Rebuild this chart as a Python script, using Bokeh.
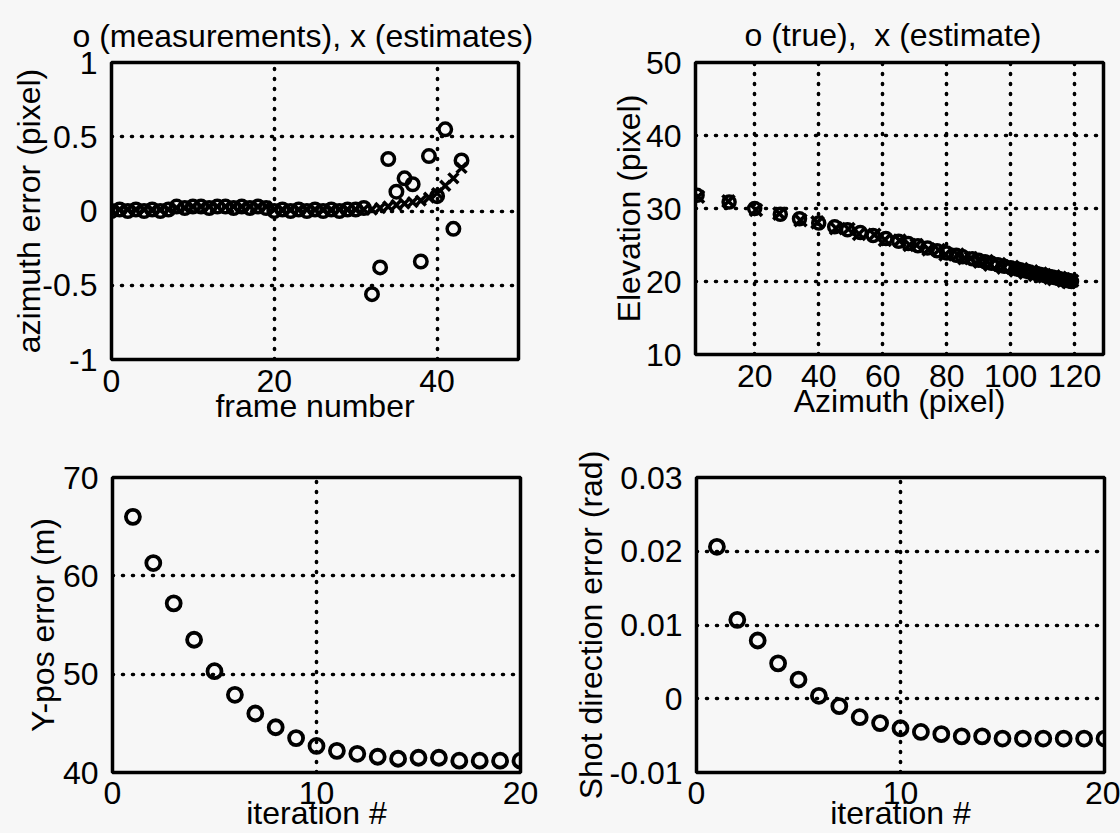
from bokeh.plotting import figure
from bokeh.layouts import column, row
from bokeh.models import FixedTicker, PrintfTickFormatter, Range1d
from bokeh.embed import file_html
from bokeh.resources import INLINE

# ---- data -------------------------------------------------------------
frames = list(range(44))
az_meas = [0.00, 0.01, 0.00, 0.01, 0.00, 0.01, 0.00, 0.01,
           0.03, 0.02, 0.03, 0.03, 0.02, 0.03, 0.03, 0.02, 0.03, 0.02, 0.03, 0.02,
           0.00, 0.01, 0.00, 0.01, 0.00, 0.01, 0.00, 0.01, 0.00, 0.01, 0.01, 0.02,
           -0.56, -0.38, 0.35, 0.13, 0.22, 0.18, -0.34, 0.37, 0.10, 0.55, -0.12, 0.34]
az_est = [0.00, 0.01, 0.01, 0.01, 0.01, 0.01, 0.01, 0.01,
          0.02, 0.02, 0.03, 0.03, 0.03, 0.03, 0.03, 0.03, 0.03, 0.03, 0.03, 0.03,
          0.01, 0.01, 0.01, 0.01, 0.01, 0.01, 0.01, 0.01, 0.01, 0.01, 0.01, 0.01,
          0.01, 0.02, 0.03, 0.04, 0.05, 0.06, 0.07, 0.09, 0.12, 0.17, 0.22, 0.29]

track_az_true = [2, 12, 20, 28, 34, 40, 45, 49, 53, 57,
                 61, 65, 68, 71, 74, 77, 80, 83, 85, 88,
                 90, 92, 94, 96, 98, 100, 102, 103, 105, 106,
                 108, 109, 110, 111, 112, 113, 114, 115, 116, 117,
                 117.5, 118, 118.5, 119]
track_el_true = [31.8, 30.9, 30.0, 29.2, 28.6, 28.0, 27.5, 27.1, 26.7, 26.3,
                 25.9, 25.5, 25.2, 24.9, 24.6, 24.2, 23.9, 23.6, 23.4, 23.1,
                 22.9, 22.7, 22.5, 22.3, 22.1, 21.9, 21.7, 21.6, 21.4, 21.3,
                 21.1, 21.0, 20.9, 20.8, 20.7, 20.6, 20.5, 20.4, 20.3, 20.2,
                 20.2, 20.1, 20.1, 20.0]
track_az_est = [2.3, 11.8, 20.4, 27.7, 34.3, 39.6, 45.4, 49.3, 52.6, 57.4,
                60.7, 65.3, 68.4, 70.6, 74.3, 77.5, 79.6, 83.4, 85.5, 87.6,
                90.4, 92.5, 93.6, 96.4, 97.7, 100.5, 101.6, 103.4, 104.6, 106.5,
                107.6, 109.4, 110.5, 110.6, 112.4, 113.5, 113.6, 115.4, 116.5, 116.6,
                117.8, 118.3, 118.2, 119.2]
track_el_est = [31.6, 31.0, 29.8, 29.3, 28.4, 28.1, 27.3, 27.2, 26.5, 26.4,
                25.7, 25.6, 25.0, 25.0, 24.4, 24.3, 23.7, 23.7, 23.2, 23.2,
                22.7, 22.8, 22.3, 22.4, 21.9, 22.0, 21.5, 21.7, 21.2, 21.4,
                20.9, 21.1, 20.7, 20.9, 20.5, 20.7, 20.3, 20.5, 20.1, 20.3,
                20.0, 20.2, 19.9, 20.1]

iterations = list(range(1, 21))
ypos_err = [66.0, 61.3, 57.2, 53.5, 50.3, 47.9, 46.0, 44.6, 43.5, 42.7,
            42.2, 41.9, 41.6, 41.4, 41.5, 41.5, 41.2, 41.2, 41.2, 41.2]
shot_err = [0.0206, 0.0107, 0.0079, 0.0048, 0.0026, 0.0004, -0.0010, -0.0025, -0.0033, -0.0040,
            -0.0045, -0.0048, -0.0051, -0.0051, -0.0054, -0.0054, -0.0054, -0.0054, -0.0054, -0.0054]

# ---- styling ----------------------------------------------------------
FONT = "Liberation Sans"
FS = "32px"
BG = "#f7f7f7"


def panel(xr, yr, xticks, yticks, xlabel, ylabel, title, frame_w, frame_h,
          left, right, top, bottom, ylab_standoff=0, xlab_standoff=-7,
          xtick_standoff=4, title_offset=0, title_standoff=14):
    kw = {}
    if title:
        kw["title"] = title
    p = figure(x_range=Range1d(*xr), y_range=Range1d(*yr),
               frame_width=frame_w, frame_height=frame_h,
               min_border_left=left, min_border_right=right,
               min_border_top=top, min_border_bottom=bottom,
               output_backend="svg", toolbar_location=None,
               background_fill_color=BG, border_fill_color=BG, **kw)
    p.outline_line_color = "black"
    p.outline_line_width = 3.5
    p.outline_line_alpha = 1.0

    if title:
        p.title.text_font = FONT
        p.title.text_font_size = FS
        p.title.text_font_style = "normal"
        p.title.align = "left"
        p.title.vertical_align = "top"
        p.title.offset = title_offset
        p.title.text_color = "black"
        p.title.standoff = title_standoff
    else:
        p.title = None

    p.xaxis.ticker = FixedTicker(ticks=xticks)
    p.yaxis.ticker = FixedTicker(ticks=yticks)
    p.xaxis.formatter = PrintfTickFormatter(format="%g")
    p.yaxis.formatter = PrintfTickFormatter(format="%g")
    p.xaxis.axis_label = xlabel
    p.yaxis.axis_label = ylabel
    for ax in (p.xaxis, p.yaxis):
        ax.axis_line_color = None
        ax.major_tick_line_color = None
        ax.minor_tick_line_color = None
        ax.major_label_text_font = FONT
        ax.major_label_text_font_size = FS
        ax.major_label_text_color = "black"
        ax.axis_label_text_font = FONT
        ax.axis_label_text_font_size = FS
        ax.axis_label_text_font_style = "normal"
        ax.axis_label_text_color = "black"
    p.xaxis.major_label_standoff = xtick_standoff
    p.xaxis.axis_label_standoff = xlab_standoff
    p.yaxis.major_label_standoff = 8
    p.yaxis.axis_label_standoff = ylab_standoff

    for g in (p.xgrid, p.ygrid):
        g.grid_line_color = "black"
        g.grid_line_width = 3.6
        g.grid_line_dash = "1 9"
        g.grid_line_cap = "round"
    return p


# azimuth error per frame
p1 = panel((0, 50), (-1, 1), [0, 20, 40], [-1, -0.5, 0, 0.5, 1],
           "frame number", "azimuth error (pixel)",
           "o (measurements), x (estimates)",
           407, 297, 111, 40, 60, 70, ylab_standoff=-8, title_offset=-39)
p1.scatter(frames, az_meas, marker="circle", size=12.5, fill_color=None,
           line_color="black", line_width=3.5)
p1.scatter(frames, az_est, marker="x", size=14, line_color="black", line_width=3.5)

# image-plane track
p2 = panel((1.5, 129), (10, 50), [20, 40, 60, 80, 100, 120], [10, 20, 30, 40, 50],
           "Azimuth (pixel)", "Elevation (pixel)",
           "o (true),\u00a0 x (estimate)",
           408, 292, 137, 17, 62, 73, ylab_standoff=-4, title_offset=49,
           title_standoff=16)
p2.scatter(track_az_true, track_el_true, marker="circle", size=12, fill_color=None,
           line_color="black", line_width=3.5)
p2.scatter(track_az_est, track_el_est, marker="x", size=17, line_color="black", line_width=3.6)

# Y-position error per iteration
p3 = panel((0, 20), (40, 70), [0, 10, 20], [40, 50, 60, 70],
           "iteration #", "Y-pos error (m)", None,
           408, 295, 112, 40, 50, 60, ylab_standoff=-1, xlab_standoff=-12, xtick_standoff=3)
p3.scatter(iterations, ypos_err, marker="circle", size=14, fill_color=None,
           line_color="black", line_width=3.8)

# shot direction error per iteration
p4 = panel((0, 20), (-0.01, 0.03), [0, 10, 20], [-0.01, 0, 0.01, 0.02, 0.03],
           "iteration #", "Shot direction error (rad)", None,
           408, 295, 136, 16, 48, 62, ylab_standoff=-2, xlab_standoff=-12, xtick_standoff=3)
p4.scatter(iterations, shot_err, marker="circle", size=14, fill_color=None,
           line_color="black", line_width=3.8)

layout = column(row(p1, p2), row(p3, p4), styles={"background-color": BG})
open("out.html", "w").write(file_html(layout, INLINE))
